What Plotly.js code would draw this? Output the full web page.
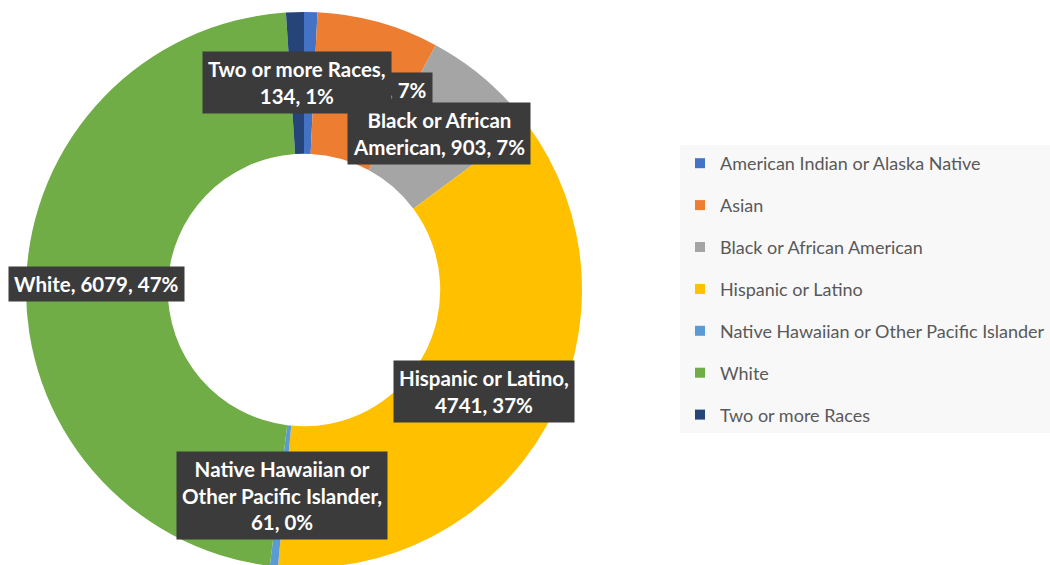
<!DOCTYPE html>
<html><head><meta charset="utf-8">
<script src="https://cdn.plot.ly/plotly-3.0.1.min.js"></script>
<style>html,body{margin:0;padding:0;overflow:hidden;background:#fff}#chart{width:1050px;height:580px}</style>
</head><body><div id="chart"></div>
<script>
// ---- data ----
const categories = ["American Indian or Alaska Native", "Asian", "Black or African American", "Hispanic or Latino", "Native Hawaiian or Other Pacific Islander", "White", "Two or more Races"];
const counts = [100, 916, 903, 4741, 61, 6079, 134];
const colors = ["#4472C4", "#ED7D31", "#A5A5A5", "#FFC000", "#5B9BD5", "#70AD47", "#264478"];
const wrappedNames = ["American Indian or<br>Alaska Native", "Asian", "Black or African<br>American", "Hispanic or Latino", "Native Hawaiian or<br>Other Pacific Islander", "White", "Two or more Races"];
const nameSeparators = [", ", ", ", ", ", ",<br>", ",<br>", ", ", ",<br>"];
const labelVisible = [false, true, true, true, true, true, true];

// ---- geometry (layout) ----
const W = 1050, H = 580;
const CX = 304, CY = 290, R = 278, HOLE = 0.49;

const total = counts.reduce((a, b) => a + b, 0);
const rMid = R * (1 + HOLE) / 2;

const pie = {
  type: 'pie',
  values: counts,
  labels: categories,
  marker: {colors: colors, line: {width: 0}},
  hole: HOLE,
  sort: false,
  direction: 'clockwise',
  rotation: 0,
  textinfo: 'none',
  hoverinfo: 'label+value+percent',
  showlegend: false,
  domain: {x: [(CX - R) / W, (CX + R) / W], y: [1 - (CY + R) / H, 1 - (CY - R) / H]}
};

const legendTraces = categories.map((c, i) => ({
  type: 'scatter', mode: 'markers', x: [null], y: [null],
  name: c, legendgroup: 'g' + i, showlegend: true, hoverinfo: 'skip',
  marker: {symbol: 'square', size: 10, color: colors[i]}
}));

let cum = 0;
const annotations = [];
counts.forEach((v, i) => {
  const mid = (cum + v / 2) / total;
  cum += v;
  if (!labelVisible[i]) return;
  const ang = mid * 2 * Math.PI;
  const px = CX + rMid * Math.sin(ang);
  const py = CY - rMid * Math.cos(ang);
  const pct = Math.round(v / total * 100);
  annotations.push({
    xref: 'paper', yref: 'paper', x: px / W, y: 1 - py / H,
    xanchor: 'center', yanchor: 'middle', showarrow: false,
    text: wrappedNames[i] + nameSeparators[i] + v + ', ' + pct + '%',
    align: 'center', bgcolor: '#3b3b3b', borderpad: 5,
    font: {family: 'Lato, Open Sans, sans-serif', size: 20.5, color: '#ffffff', weight: 700}
  });
});

const layout = {
  width: W, height: H,
  margin: {l: 0, r: 0, t: 0, b: 0},
  paper_bgcolor: '#ffffff', plot_bgcolor: 'rgba(0,0,0,0)',
  xaxis: {visible: false}, yaxis: {visible: false},
  showlegend: true,
  legend: {
    x: 680 / W, xanchor: 'left', y: 1 - 145 / H, yanchor: 'top',
    bgcolor: '#f8f8f8', borderwidth: 0, tracegroupgap: 15.5,
    font: {family: 'Lato, Open Sans, sans-serif', size: 18, color: '#595959'}
  },
  annotations: annotations
};

Plotly.newPlot('chart', [pie].concat(legendTraces), layout, {displayModeBar: false, staticPlot: true});
</script>
</body></html>
